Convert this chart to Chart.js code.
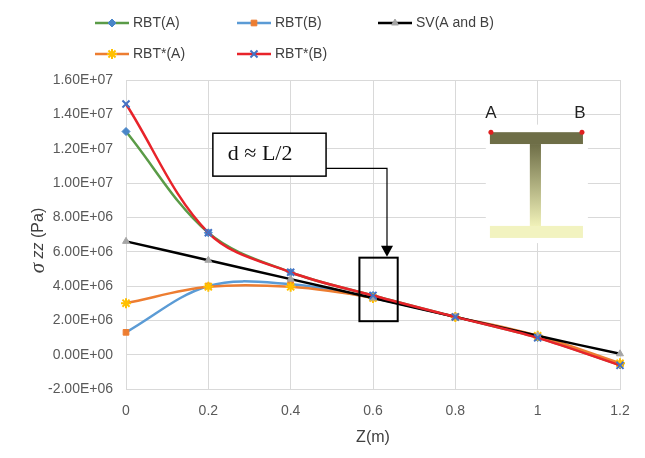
<!DOCTYPE html>
<html>
<head>
<meta charset="utf-8">
<script src="https://cdn.jsdelivr.net/npm/chart.js@4.4.1/dist/chart.umd.min.js"></script>
<style>
  html, body { margin: 0; padding: 0; background: #fff; }
  #wrap { width: 645px; height: 458px; position: relative; }
</style>
</head>
<body>
<div id="wrap"><canvas id="chart" width="645" height="458"></canvas></div>
<script>
// Datos
const zValues = [0, 0.2, 0.4, 0.6, 0.8, 1.0, 1.2];
const rbtA = [13.0e6, 7.1e6, 4.8e6, 3.45e6, 2.2e6, 1.0e6, -0.6e6];
const rbtB = [1.3e6, 4.0e6, 4.1e6, 3.3e6, 2.2e6, 1.05e6, -0.55e6];
const svAB = [6.6e6, 5.5e6, 4.4e6, 3.3e6, 2.2e6, 1.1e6, 0.05e6];
const rbtStarA = [3.0e6, 3.95e6, 3.95e6, 3.3e6, 2.2e6, 1.1e6, -0.5e6];
const rbtStarB = [14.6e6, 7.1e6, 4.8e6, 3.45e6, 2.2e6, 0.98e6, -0.62e6];
const yTicks = { min: -2e6, max: 1.6e7, step: 2e6 };

const toPoints = (arr) => arr.map((v, i) => ({ x: zValues[i], y: v }));

function sci(v) {
  const s = Number(v).toExponential(2).toUpperCase();
  const [m, e] = s.split("E");
  const sign = e[0] === "-" ? "-" : "+";
  const digits = e.replace(/[+-]/, "").padStart(2, "0");
  return m + "E" + sign + digits;
}

const series = [
  { label: "RBT(A)", data: rbtA, line: "#5A9B47", marker: "#4A86C8", style: "rectRot", r: 4, order: 4 },
  { label: "RBT(B)", data: rbtB, line: "#5B9BD5", marker: "#ED7D31", style: "rect", r: 4, order: 3 },
  { label: "SV(A and B)", data: svAB, line: "#000000", marker: "#A5A5A5", style: "triangle", r: 4, order: 1 },
  { label: "RBT*(A)", data: rbtStarA, line: "#ED7D31", marker: "#FFC000", style: "star", r: 5, order: 2 },
  { label: "RBT*(B)", data: rbtStarB, line: "#E8232A", marker: "#4472C4", style: "crossRot", r: 5, order: 0 },
];
const isLineStyle = (s) => s.style === "star" || s.style === "crossRot";

// Leyenda, título del eje Y y anotaciones dibujadas a mano
const decoPlugin = {
  id: "deco",
  afterDraw(chart) {
    const ctx = chart.ctx;
    const xs = chart.scales.x;
    const ys = chart.scales.y;
    const px = (v) => xs.getPixelForValue(v);
    const py = (v) => ys.getPixelForValue(v);

    // leyenda
    const legendPos = [
      [95, 23], [237, 23], [378, 23], [95, 54], [237, 54],
    ];
    series.forEach((s, i) => {
      const [lx, ly] = legendPos[i];
      ctx.save();
      ctx.strokeStyle = s.line;
      ctx.lineWidth = 2.5;
      ctx.beginPath();
      ctx.moveTo(lx, ly);
      ctx.lineTo(lx + 34, ly);
      ctx.stroke();
      ctx.fillStyle = isLineStyle(s) ? "rgba(0,0,0,0)" : s.marker;
      ctx.strokeStyle = s.marker;
      ctx.lineWidth = isLineStyle(s) ? 2 : 1;
      Chart.helpers.drawPoint(ctx, {
        pointStyle: s.style, radius: s.r, rotation: 0, borderWidth: ctx.lineWidth,
      }, lx + 17, ly);
      ctx.fillStyle = "#404040";
      ctx.font = "14px 'Liberation Sans', Arial, sans-serif";
      ctx.textBaseline = "middle";
      ctx.fillText(s.label, lx + 38, ly);
      ctx.restore();
    });

    // título eje Y
    ctx.save();
    ctx.translate(38, (chart.chartArea.top + chart.chartArea.bottom) / 2 + 6);
    ctx.rotate(-Math.PI / 2);
    ctx.fillStyle = "#404040";
    ctx.textBaseline = "middle";
    const f1 = "italic 21px 'Liberation Serif', serif";
    const f2 = "italic 16px 'Liberation Sans', sans-serif";
    const f3 = "16px 'Liberation Sans', sans-serif";
    ctx.font = f1; const w1 = ctx.measureText("σ").width;
    ctx.font = f2; const w2 = ctx.measureText(" zz").width;
    ctx.font = f3; const w3 = ctx.measureText(" (Pa)").width;
    let tx = -(w1 + w2 + w3) / 2;
    ctx.font = f1; ctx.fillText("σ", tx, 0); tx += w1;
    ctx.font = f2; ctx.fillText(" zz", tx, 1); tx += w2;
    ctx.font = f3; ctx.fillText(" (Pa)", tx, 1);
    ctx.restore();

    // título eje X
    ctx.save();
    ctx.fillStyle = "#404040";
    ctx.font = "16px 'Liberation Sans', sans-serif";
    ctx.textAlign = "center";
    ctx.textBaseline = "middle";
    ctx.fillText("Z(m)", (chart.chartArea.left + chart.chartArea.right) / 2, 438);
    ctx.restore();

    // recuadro "d ≈ L/2" con flecha
    ctx.save();
    ctx.strokeStyle = "#000";
    ctx.lineWidth = 1.5;
    const bx1 = px(0.211), bx2 = px(0.486), by1 = py(12.9e6), by2 = py(10.4e6);
    ctx.fillStyle = "#fff";
    ctx.fillRect(bx1, by1, bx2 - bx1, by2 - by1);
    ctx.strokeRect(bx1, by1, bx2 - bx1, by2 - by1);
    ctx.fillStyle = "#111";
    ctx.font = "22px 'Liberation Serif', 'DejaVu Serif', serif";
    ctx.textBaseline = "middle";
    ctx.fillText("d ≈ L/2", bx1 + 15, (by1 + by2) / 2);
    ctx.lineWidth = 1.2;
    const ax = px(0.634), ayTop = py(10.85e6), ayTip = py(5.7e6);
    ctx.beginPath();
    ctx.moveTo(bx2, ayTop);
    ctx.lineTo(ax, ayTop);
    ctx.lineTo(ax, ayTip - 8);
    ctx.stroke();
    ctx.fillStyle = "#000";
    ctx.beginPath();
    ctx.moveTo(ax - 6, ayTip - 11);
    ctx.lineTo(ax + 6, ayTip - 11);
    ctx.lineTo(ax, ayTip);
    ctx.closePath();
    ctx.fill();
    // recuadro alrededor de z = 0.6
    ctx.lineWidth = 2;
    const rx1 = px(0.567), rx2 = px(0.66), ry1 = py(5.65e6), ry2 = py(1.95e6);
    ctx.strokeRect(rx1, ry1, rx2 - rx1, ry2 - ry1);
    ctx.restore();

    // perfil en I
    ctx.save();
    const wx1 = px(0.874), wx2 = px(1.122), wy1 = py(13.4e6), wy2 = py(6.5e6);
    ctx.fillStyle = "#fff";
    ctx.fillRect(wx1, wy1, wx2 - wx1, wy2 - wy1);
    const fx1 = px(0.884), fx2 = px(1.11);
    const t1 = py(12.96e6), t2 = py(12.27e6);
    const b1 = py(7.5e6), b2 = py(6.8e6);
    const cx1 = px(0.981), cx2 = px(1.008);
    ctx.fillStyle = "#6E6E47";
    ctx.fillRect(fx1, t1, fx2 - fx1, t2 - t1);
    const grad = ctx.createLinearGradient(0, t2, 0, b1);
    grad.addColorStop(0, "#6E6E47");
    grad.addColorStop(1, "#F0F1B8");
    ctx.fillStyle = grad;
    ctx.fillRect(cx1, t2, cx2 - cx1, b1 - t2 + 1);
    ctx.fillStyle = "#F2F3C0";
    ctx.fillRect(fx1, b1, fx2 - fx1, b2 - b1);
    ctx.fillStyle = "#E02020";
    [fx1 + 1, fx2 - 1].forEach((x) => {
      ctx.beginPath();
      ctx.arc(x, t1, 2.5, 0, Math.PI * 2);
      ctx.fill();
    });
    ctx.fillStyle = "#222";
    ctx.font = "17px 'Liberation Sans', sans-serif";
    ctx.textAlign = "center";
    ctx.textBaseline = "middle";
    ctx.fillText("A", fx1 + 1, py(14.05e6));
    ctx.fillText("B", fx2 - 3, py(14.05e6));
    ctx.restore();
  },
};

const datasets = series.map((s) => ({
  label: s.label,
  data: toPoints(s.data),
  borderColor: s.line,
  borderWidth: 2.5,
  tension: 0.35,
  clip: false,
  pointStyle: s.style,
  pointRadius: s.r,
  pointBackgroundColor: isLineStyle(s) ? "rgba(0,0,0,0)" : s.marker,
  pointBorderColor: s.marker,
  pointBorderWidth: isLineStyle(s) ? 2 : 1,
  order: s.order,
}));

new Chart(document.getElementById("chart"), {
  type: "line",
  data: { datasets },
  options: {
    responsive: false,
    animation: false,
    layout: { padding: { top: 80, right: 25, left: 0, bottom: 0 } },
    plugins: {
      legend: { display: false },
      tooltip: { enabled: false },
    },
    scales: {
      x: {
        type: "linear",
        min: 0,
        max: 1.2,
        afterFit: (s) => { s.height = 69; },
        grid: { color: "#D9D9D9", drawTicks: false },
        border: { color: "#D9D9D9" },
        ticks: {
          stepSize: 0.2,
          padding: 14,
          color: "#595959",
          font: { family: "'Liberation Sans', Arial, sans-serif", size: 14 },
          callback: (v) => String(Number(v.toFixed(1))),
        },
      },
      y: {
        min: yTicks.min,
        max: yTicks.max,
        afterFit: (s) => { s.width = 126; },
        grid: { color: "#D9D9D9", drawTicks: false },
        border: { color: "#D9D9D9" },
        ticks: {
          stepSize: yTicks.step,
          padding: 13,
          color: "#595959",
          font: { family: "'Liberation Sans', Arial, sans-serif", size: 14 },
          callback: (v) => sci(v),
        },
      },
    },
  },
  plugins: [decoPlugin],
});
</script>
</body>
</html>
